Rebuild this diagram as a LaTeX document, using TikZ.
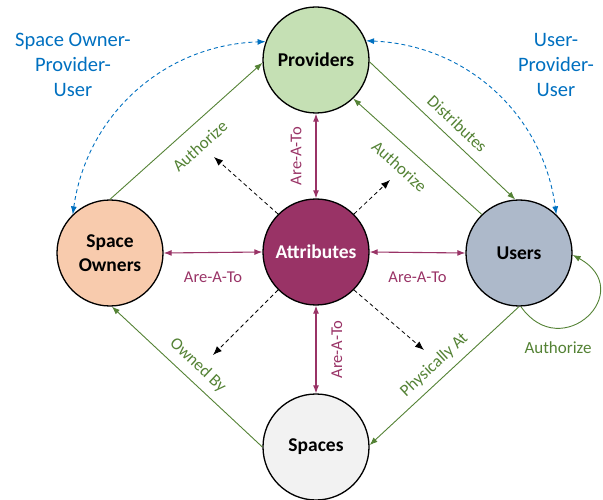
\documentclass[tikz,border=0pt]{standalone}
\usepackage{fontspec}
\setmainfont{Carlito}
\usetikzlibrary{arrows.meta,calc}
\definecolor{provc}{HTML}{C5E0B4}
\definecolor{attrc}{HTML}{993366}
\definecolor{ownc}{HTML}{F8CBAD}
\definecolor{userc}{HTML}{ADB9CA}
\definecolor{spacec}{HTML}{F2F2F2}
\definecolor{grnc}{HTML}{548235}
\definecolor{magc}{HTML}{993366}
\definecolor{bluc}{HTML}{0070C0}
\begin{document}
\begin{tikzpicture}[x=1pt,y=1pt,
  ent/.style={circle, draw=black, line width=1.3pt, minimum size=106pt, inner sep=0pt, align=center, font=\fontsize{19.5}{24}\selectfont\bfseries},
  grn/.style={draw=grnc, line width=0.9pt, -{Latex[length=8pt,width=6pt]}},
  mag/.style={draw=magc, line width=1.1pt, {Latex[length=8pt,width=6pt]}-{Latex[length=8pt,width=6pt]}},
  blk/.style={draw=black, line width=0.8pt, dash pattern=on 4pt off 3pt, -{Latex[length=9pt,width=7pt]}},
  blu/.style={draw=bluc, line width=0.9pt, dash pattern=on 4pt off 3pt, {Latex[length=8pt,width=6pt]}-{Latex[length=8pt,width=6pt]}},
  glab/.style={text=grnc, font=\fontsize{17}{18}\selectfont, inner sep=0pt, sloped},
  mlab/.style={text=magc, font=\fontsize{16.5}{18}\selectfont, inner sep=0pt},
  blab/.style={text=bluc, font=\fontsize{20.5}{25}\selectfont, align=center, inner sep=0pt}
]
\useasboundingbox (0,0) rectangle (603,499);
\node[ent, fill=provc] (P) at (316,439) {Providers};
\node[ent, fill=attrc, text=white] (A) at (316,247) {Attributes};
\node[ent, fill=ownc] (SO) at (110,246) {Space\\Owners};
\node[ent, fill=userc] (U) at (519,246) {Users};
\node[ent, fill=spacec] (S) at (316,52) {Spaces};

\coordinate (ul) at (214,342);
\coordinate (ur) at (390,319);
\coordinate (ll) at (213,144);
\coordinate (lr) at (424,149);
\coordinate (loop1) at (562,134);
\coordinate (loop2) at (638,208);

% green relations
\draw[grn] (SO.90) -- node[glab, below=14pt] {Authorize} (P.183);
\draw[grn] (P.-2) -- node[glab, above=9pt, pos=0.53] {Distributes} (U.94);
\draw[grn] (U.134) -- node[glab, below=13pt, pos=0.54] {Authorize} (P.-46);
\draw[grn] (S.180) -- node[glab, above=8pt] {Owned By} (SO.-88);
\draw[grn] (U.-90) -- node[glab, above=7pt] {Physically At} (S.2);
\draw[grn] (U.-88) .. controls (loop1) and (loop2) .. (U.-2);
\node[text=grnc, font=\fontsize{17}{18}\selectfont, inner sep=0pt] (ulab) at (558,151) {Authorize};

% are-a-to
\draw[mag] (A.north) -- node[mlab, sloped, above=14pt] {Are-A-To} (P.south);
\draw[mag] (S.north) -- node[mlab, sloped, below=15pt] {Are-A-To} (A.south);
\draw[mag] (SO.east) -- node[mlab, below=19pt] {Are-A-To} (A.west);
\draw[mag] (A.east) -- node[mlab, below=19pt] {Are-A-To} (U.west);

% dashed black
\draw[blk] (A.135) -- (ul);
\draw[blk] (A.45) -- (ur);
\draw[blk] (A.225) -- (ll);
\draw[blk] (A.315) -- (lr);

% blue
\draw[blu] (SO.134) to[bend left=40] (P.160);
\draw[blu] (P.21) to[bend left=40] (U.46);
\node[blab] (bl) at (73,434) {Space Owner-\\Provider-\\User};
\node[blab] (br) at (556,434) {User-\\Provider-\\User};
\end{tikzpicture}
\end{document}
